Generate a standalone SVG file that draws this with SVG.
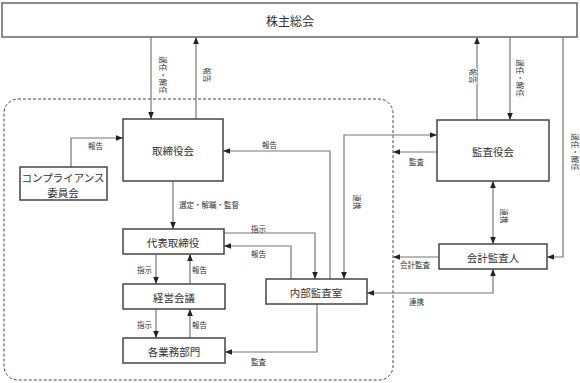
<svg xmlns="http://www.w3.org/2000/svg" width="580" height="383" viewBox="0 0 580 383">
<defs>
<marker id="ah" viewBox="0 0 10 10" refX="10" refY="5" markerWidth="7" markerHeight="7" markerUnits="userSpaceOnUse" orient="auto-start-reverse"><path d="M0,1 L10,5 L0,9 z" fill="#222"/></marker>
<style>
.box{fill:#fff;stroke:#444;stroke-width:1.5}
.top{fill:#fff;stroke:#666;stroke-width:1.5}
.t{font-family:"Noto Sans CJK JP","Noto Sans",sans-serif;font-size:10.5px;fill:#333;text-anchor:middle;dominant-baseline:central}
.s{font-family:"Noto Sans CJK JP","Noto Sans",sans-serif;font-size:7.5px;fill:#333;dominant-baseline:central}
.c{fill:none;stroke:#777;stroke-width:1.2}
.a{marker-end:url(#ah)}
.b{marker-start:url(#ah);marker-end:url(#ah)}
</style>
</defs>
<rect x="4" y="99" width="389" height="281" rx="14" fill="none" stroke="#444" stroke-width="1" stroke-dasharray="3,2"/>
<g id="connectors">
<path class="c a" d="M151,37 V119"/>
<path class="c a" d="M196,119 V37"/>
<path class="c a" d="M477,120 V37"/>
<path class="c a" d="M510,37 V120"/>
<path class="c a" d="M563,37 V257 H547"/>
<path class="c a" d="M71,167 V138 H123"/>
<path class="c a" d="M330,279 V151 H223"/>
<path class="c b" d="M344,279 V135 H437"/>
<path class="c a" d="M437,152 H393"/>
<path class="c b" d="M493,181 V244"/>
<path class="c a" d="M439,257 H393"/>
<path class="c b" d="M493,269 V293 H367"/>
<path class="c a" d="M173,181 V229"/>
<path class="c a" d="M224,233 H315 V279"/>
<path class="c a" d="M291,279 V246 H224"/>
<path class="c a" d="M317,304 V352 H225"/>
<path class="c a" d="M156,254 V284"/>
<path class="c a" d="M190,284 V254"/>
<path class="c a" d="M156,309 V338"/>
<path class="c a" d="M190,338 V309"/>
</g>
<g id="labels">
<text class="s" text-anchor="middle" transform="translate(163,75) rotate(90)">選任・解任</text>
<text class="s" text-anchor="middle" transform="translate(207,75) rotate(90)">報告</text>
<rect x="468" y="68" width="9" height="16" fill="#fff"/>
<text class="s" text-anchor="middle" transform="translate(473,76) rotate(90)">報告</text>
<text class="s" text-anchor="middle" transform="translate(520,78) rotate(90)">選任・解任</text>
<text class="s" text-anchor="middle" transform="translate(575,152) rotate(90)">選任・解任</text>
<text class="s" x="88" y="145">報告</text>
<text class="s" x="262" y="144">報告</text>
<text class="s" text-anchor="middle" transform="translate(357,202) rotate(90)">連携</text>
<text class="s" x="409" y="161">監査</text>
<text class="s" text-anchor="middle" transform="translate(504,216) rotate(90)">連携</text>
<text class="s" x="400" y="264">会計監査</text>
<text class="s" x="409" y="301">連携</text>
<text class="s" x="179" y="204">選定・解職・監督</text>
<text class="s" x="251" y="228">指示</text>
<text class="s" x="251" y="253">報告</text>
<text class="s" x="251" y="361">監査</text>
<text class="s" x="137" y="269">指示</text>
<text class="s" x="192" y="269">報告</text>
<text class="s" x="137" y="324">指示</text>
<text class="s" x="192" y="324">報告</text>
</g>
<g id="shareholders"><rect class="top" x="2" y="3" width="575" height="34"/><text class="t" x="290" y="20" style="font-size:12px">株主総会</text></g>
<g id="board"><rect class="box" x="123" y="119" width="100" height="62"/><text class="t" x="173" y="150">取締役会</text></g>
<g id="compliance"><rect class="box" x="20" y="167" width="87" height="33"/><text class="t" x="63" y="177">コンプライアンス</text><text class="t" x="63" y="192">委員会</text></g>
<g id="auditboard"><rect class="box" x="437" y="120" width="112" height="61"/><text class="t" x="493" y="151">監査役会</text></g>
<g id="accountant"><rect class="box" x="439" y="244" width="108" height="25"/><text class="t" x="493" y="257">会計監査人</text></g>
<g id="internalaudit"><rect class="box" x="266" y="279" width="101" height="25"/><text class="t" x="316" y="292">内部監査室</text></g>
<g id="ceo"><rect class="box" x="123" y="229" width="101" height="25"/><text class="t" x="173" y="242">代表取締役</text></g>
<g id="mgmt"><rect class="box" x="123" y="284" width="102" height="25"/><text class="t" x="174" y="297">経営会議</text></g>
<g id="depts"><rect class="box" x="123" y="338" width="102" height="25"/><text class="t" x="174" y="351">各業務部門</text></g>
</svg>
